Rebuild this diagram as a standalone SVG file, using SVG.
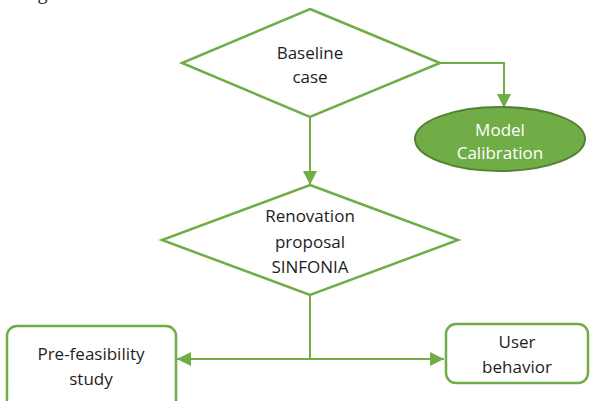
<svg xmlns="http://www.w3.org/2000/svg" width="590" height="401" viewBox="0 0 590 401">
<defs>
<style>
.shape{fill:#fff;stroke:#70ad47;stroke-width:2.5}
.conn{fill:none;stroke:#70ad47;stroke-width:2}
.t{font-family:"Open Sans","Liberation Sans",sans-serif;font-size:17px;fill:#1e1e1e;text-anchor:middle}
.w{fill:#fff}
</style>
<marker id="ahL" viewBox="0 0 10 10" refX="10" refY="5" markerWidth="14" markerHeight="14" markerUnits="userSpaceOnUse" orient="auto">
<path d="M0,0 L10,5 L0,10 z" fill="#70ad47"/>
</marker>
</defs>
<rect width="590" height="401" fill="#fff"/>
<text x="12" y="-1" font-family="Liberation Serif,serif" font-size="20" fill="#222">ranged.</text>
<g id="connectors">
<path class="conn" d="M440,63 H504 V108" marker-end="url(#ahL)"/>
<path class="conn" d="M310,117 V185" marker-end="url(#ahL)"/>
<path class="conn" d="M310,295 V359"/>
<path class="conn" d="M310,359 H177" marker-end="url(#ahL)"/>
<path class="conn" d="M310,359 H444" marker-end="url(#ahL)"/>
</g>
<g id="baseline">
<polygon class="shape" points="310,9 440,63 310,117 182,63"/>
<text class="t" x="310" y="59">Baseline</text>
<text class="t" x="310" y="83">case</text>
</g>
<g id="calibration">
<ellipse cx="500" cy="139" rx="85" ry="32" fill="#70ad47" stroke="#548235" stroke-width="2"/>
<text class="t w" x="500" y="136">Model</text>
<text class="t w" x="500" y="159">Calibration</text>
</g>
<g id="renovation">
<polygon class="shape" points="310,185 458,240 310,295 162,240"/>
<text class="t" x="310" y="222">Renovation</text>
<text class="t" x="310" y="248">proposal</text>
<text class="t" x="310" y="273">SINFONIA</text>
</g>
<g id="prefeasibility">
<rect class="shape" x="7" y="326" width="169" height="85" rx="10"/>
<text class="t" x="91" y="360">Pre-feasibility</text>
<text class="t" x="91" y="385">study</text>
</g>
<g id="user">
<rect class="shape" x="446" y="324" width="142" height="59" rx="10"/>
<text class="t" x="517" y="348">User</text>
<text class="t" x="517" y="373">behavior</text>
</g>
</svg>
